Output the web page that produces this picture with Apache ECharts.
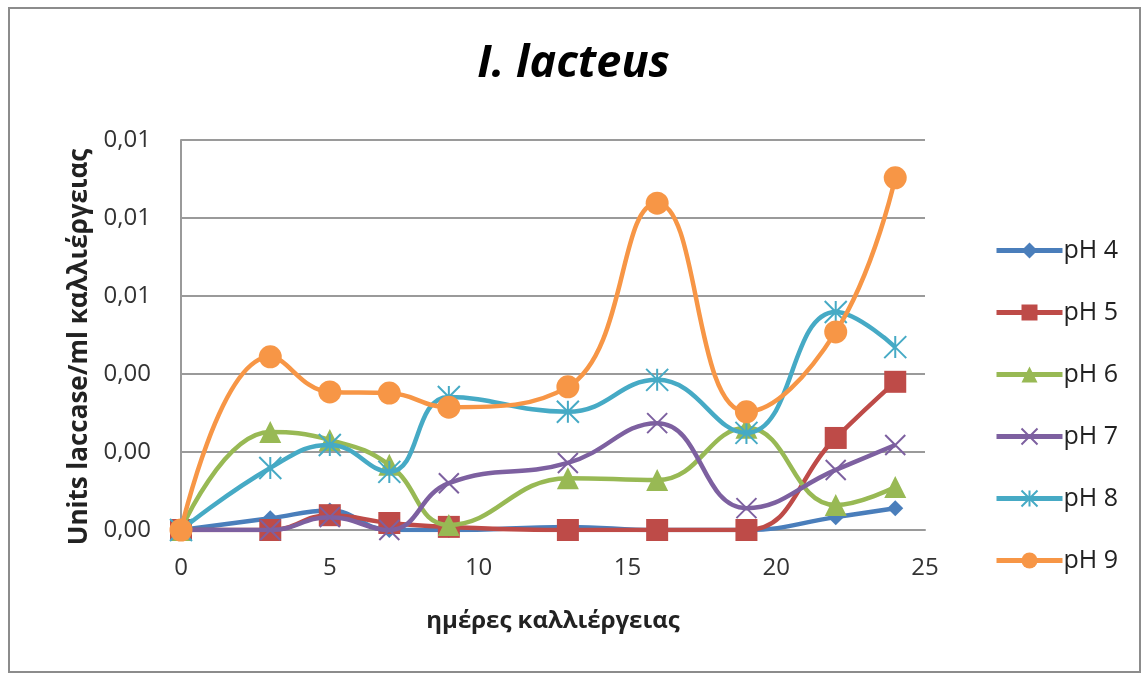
<!DOCTYPE html>
<html>
<head>
<meta charset="utf-8">
<title>I. lacteus</title>
<script src="https://cdn.jsdelivr.net/npm/echarts@6/dist/echarts.min.js"></script>
<style>
  html, body { margin: 0; padding: 0; background: #fff; }
  #chart { width: 1147px; height: 680px; }
</style>
</head>
<body>
<div id="chart"></div>
<script>
// Culture days (x) and laccase activity per pH (Units/ml)
const days = [0, 3, 5, 7, 9, 13, 16, 19, 22, 24];
const pH4 = [0, 0.00030, 0.00050, 0, 0, 0.00008, 0, 0, 0.00033, 0.00056];
const pH5 = [0, 0, 0.00038, 0.00018, 0.00008, 0, 0, 0, 0.00236, 0.00380];
const pH6 = [0, 0.00251, 0.00231, 0.00167, 0.00013, 0.00133, 0.00128, 0.00262, 0.00064, 0.00110];
const pH7 = [0, 0, 0.00033, 0, 0.00120, 0.00172, 0.00274, 0.00056, 0.00154, 0.00218];
const pH8 = [0, 0.00159, 0.00218, 0.00149, 0.00341, 0.00303, 0.00385, 0.00249, 0.00559, 0.00469];
const pH9 = [0, 0.00444, 0.00354, 0.00351, 0.00315, 0.00367, 0.00838, 0.00303, 0.00508, 0.00903];
const seriesNames = ['pH 4', 'pH 5', 'pH 6', 'pH 7', 'pH 8', 'pH 9'];
const yTicks = [0, 0.002, 0.004, 0.006, 0.008, 0.010];

const colors = ['#4A7EBB', '#BE4B48', '#98B954', '#7D60A0', '#46AAC5', '#F79646'];
const FONT = '"Open Sans", "Noto Sans", sans-serif';

const crossPath = 'path://M0,0L10,10M10,0L0,10';
const starPath = 'path://M5,0L5,10M0,0L10,10M10,0L0,10';

const styles = [
  { symbol: 'diamond', size: 16 },
  { symbol: 'rect', size: 22 },
  { symbol: 'triangle', size: 22 },
  { symbol: crossPath, size: 20, stroke: true },
  { symbol: starPath, size: 22, stroke: true },
  { symbol: 'circle', size: 23 }
];

const allData = [pH4, pH5, pH6, pH7, pH8, pH9];

const series = allData.map((vals, i) => {
  const st = styles[i];
  return {
    name: seriesNames[i],
    type: 'line',
    smooth: 0.45,
    data: days.map((d, k) => [d, vals[k]]),
    symbol: st.symbol,
    symbolSize: st.size,
    lineStyle: { color: colors[i], width: 4.5 },
    itemStyle: st.stroke
      ? { color: 'rgba(0,0,0,0)', borderColor: colors[i], borderWidth: 2 }
      : { color: colors[i], borderColor: colors[i], borderWidth: 0 },
    emphasis: { disabled: true },
    z: 2 + i
  };
});

const chart = echarts.init(document.getElementById('chart'), null, { renderer: 'canvas' });
chart.setOption({
  animation: false,
  backgroundColor: '#fff',
  color: colors,
  title: {
    text: 'I. lacteus',
    left: 'center',
    top: 42,
    textStyle: { fontFamily: FONT, fontSize: 45, fontStyle: 'italic', fontWeight: 'bold', color: '#000' },
    padding: [0, 0, 0, 12]
  },
  grid: { left: 181, right: 222, top: 140, bottom: 150 },
  legend: {
    orient: 'vertical',
    left: 989,
    top: 233,
    itemWidth: 66,
    itemHeight: 20,
    itemGap: 37,
    data: seriesNames,
    lineStyle: { width: 5 },
    textStyle: { fontFamily: FONT, fontSize: 25, color: '#222', padding: [0, 0, 0, -4] }
  },
  xAxis: {
    type: 'value',
    min: 0, max: 25, interval: 5,
    name: 'ημέρες καλλιέργειας',
    nameLocation: 'middle',
    nameGap: 79,
    nameTextStyle: { fontFamily: FONT, fontSize: 24, fontWeight: 'bold', color: '#222' },
    axisLine: { show: true, lineStyle: { color: '#9a9a9a', width: 2 } },
    axisTick: { show: false },
    splitLine: { show: false },
    axisLabel: { fontFamily: FONT, fontSize: 24, color: '#333', margin: 26 }
  },
  yAxis: {
    type: 'value',
    min: yTicks[0], max: yTicks[yTicks.length - 1], interval: yTicks[1] - yTicks[0],
    name: 'Units laccase/ml καλλιέργειας',
    nameLocation: 'middle',
    nameGap: 86,
    nameRotate: 90,
    nameTextStyle: { fontFamily: FONT, fontSize: 26, fontWeight: 'bold', color: '#222', padding: [0, 24, 0, 0] },
    axisLine: { show: true, lineStyle: { color: '#9a9a9a', width: 2 } },
    axisTick: { show: false },
    splitLine: { show: true, lineStyle: { color: '#9a9a9a', width: 2 } },
    axisLabel: {
      fontFamily: FONT, fontSize: 24, color: '#333', margin: 30,
      formatter: v => v.toFixed(2).replace('.', ',')
    }
  },
  graphic: [{
    type: 'rect',
    shape: { x: 9, y: 8, width: 1131, height: 664 },
    style: { fill: 'none', stroke: '#8c8c8c', lineWidth: 2 },
    silent: true,
    z: -1
  }],
  series: series
});
</script>
</body>
</html>
